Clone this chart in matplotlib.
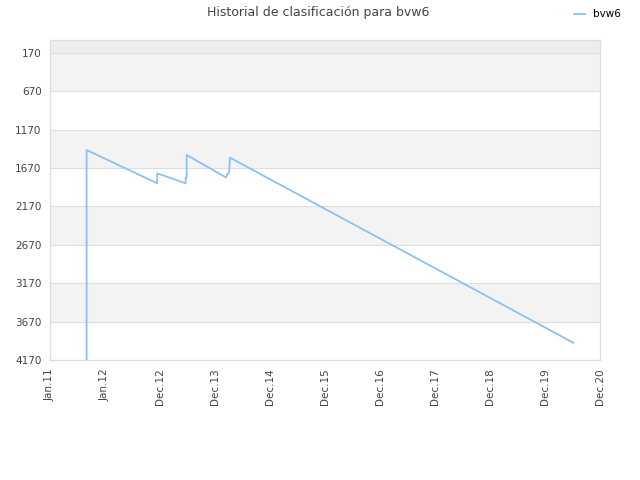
import matplotlib
matplotlib.use("Agg")
import matplotlib.pyplot as plt
import matplotlib.dates as mdates
import numpy as np
from datetime import datetime, timedelta

# Datos
fechas = ["2011-08-30", "2011-08-30", "2012-12-07", "2012-12-07", "2013-06-12",
          "2013-06-12", "2013-06-19", "2013-06-19", "2014-03-03", "2014-03-26",
          "2014-03-31", "2020-06-08"]
posiciones = [4170, 1434, 1868, 1738, 1868, 1799, 1799, 1499, 1790, 1717, 1534, 3945]

tick_labels = ["Jan.11", "Jan.12", "Dec.12", "Dec.13", "Dec.14", "Dec.15",
               "Dec.16", "Dec.17", "Dec.18", "Dec.19", "Dec.20"]
y_ticks = [170, 670, 1170, 1670, 2170, 2670, 3170, 3670, 4170]

x = [datetime.strptime(f, "%Y-%m-%d") for f in fechas]

fig = plt.figure(figsize=(6.4, 4.8), dpi=100)
ax = fig.add_axes([50 / 640, 120 / 480, 550 / 640, 320 / 480])

# Bandas alternas de fondo
ax.axhspan(1, 170, color="#eeeeee", zorder=0, lw=0)
for i in range(len(y_ticks) - 1):
    if i % 2 == 0:
        ax.axhspan(y_ticks[i], y_ticks[i + 1], color="#f3f3f3", zorder=0, lw=0)

for yt in y_ticks:
    ax.axhline(yt, color="#dddddd", lw=0.8, zorder=1)

ax.plot(x, posiciones, color="#8dc0f2", lw=1.3, zorder=3, label="bvw6")

start = datetime(2011, 1, 1)
end = datetime(2020, 12, 1)
paso = (end - start) / 10
tick_dates = [start + paso * k for k in range(11)]
ax.set_xticks(tick_dates)
ax.set_xticklabels(tick_labels, rotation=90, fontsize=7.5, color="#444444")
ax.set_xlim(start, end)

ax.set_yticks(y_ticks)
ax.set_yticklabels([str(v) for v in y_ticks], fontsize=7.5, color="#444444")
ax.set_ylim(4170, 1)

ax.tick_params(length=0, pad=6)
for s in ax.spines.values():
    s.set_color("#dddddd")
    s.set_linewidth(0.9)

fig.text(0.497, 0.974, "Historial de clasificación para bvw6", ha="center", va="center",
         fontsize=9, color="#444444")
fig.legend(loc="upper right", bbox_to_anchor=(0.985, 1.0), frameon=False, fontsize=7.5,
           handlelength=1.0, handletextpad=0.8)

fig.savefig("out.png", dpi=100)
